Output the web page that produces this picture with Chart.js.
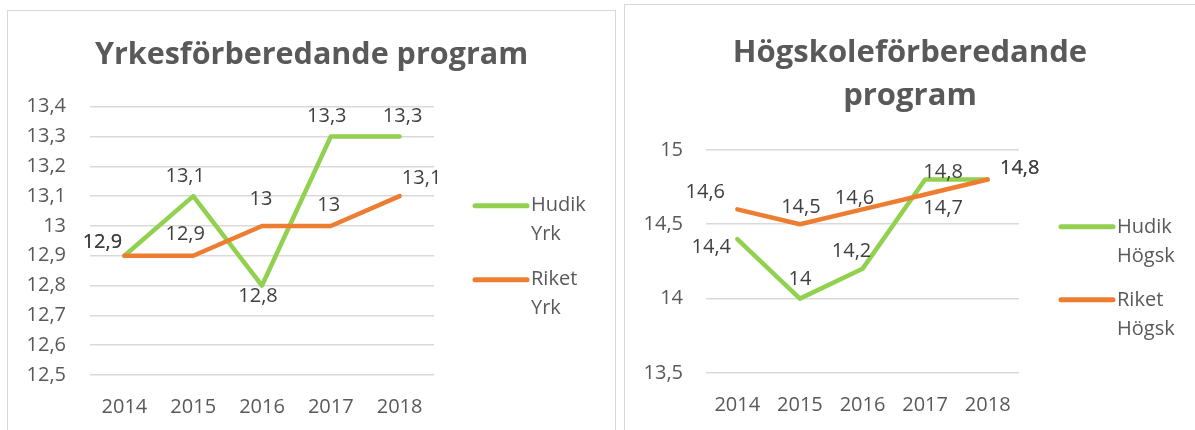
<!DOCTYPE html>
<html>
<head>
<meta charset="utf-8">
<script src="https://cdn.jsdelivr.net/npm/chart.js@4.4.1/dist/chart.umd.min.js"></script>
<style>
    body { margin: 0; background: #fff; width: 1195px; height: 430px; overflow: hidden; position: relative; }
    .box { position: absolute; border: 1px solid #d9d9d9; background: #fff; }
    canvas { position: absolute; left: 0; top: 0; }
</style>
</head>
<body>
<div class="box" style="left:7px;top:10px;width:607px;height:440px"><canvas id="yrkChart" width="607" height="419"></canvas></div>
<div class="box" style="left:624px;top:4px;width:600px;height:440px"><canvas id="hogskChart" width="570" height="425"></canvas></div>
<script>
const years = ['2014', '2015', '2016', '2017', '2018'];

const hudikYrk = [12.9, 13.1, 12.8, 13.3, 13.3];
const riketYrk = [12.9, 12.9, 13.0, 13.0, 13.1];
const yrkTicks = [12.5, 12.6, 12.7, 12.8, 12.9, 13.0, 13.1, 13.2, 13.3, 13.4];

const hudikHogsk = [14.4, 14.0, 14.2, 14.8, 14.8];
const riketHogsk = [14.6, 14.5, 14.6, 14.7, 14.8];
const hogskTicks = [13.5, 14.0, 14.5, 15.0];

const GREEN = '#92D050';
const ORANGE = '#ED7D31';
const GRAY = '#595959';
const FONT = 'Open Sans';

// label offsets (dx, dy) from each point, per dataset
const yrkLabelOffsets = [
    [[-22, -13], [-8, -20], [-4, 11], [-4, -20], [3, -20]],
    [[-22, -13], [-8, -21], [-1, -27], [-2, -21], [22, -18]]
];
const hogskLabelOffsets = [
    [[-26, 8], [0, -19], [-11, -18], [18, -7], [32, -11]],
    [[-32, -17], [1, -17], [-8, -11], [18, 14], [32, -11]]
];

const fmt = v => String(Math.round(v * 10) / 10).replace('.', ',');

const valueLabels = {
    id: 'valueLabels',
    afterDatasetsDraw(chart, args, opts) {
        const ctx = chart.ctx;
        ctx.save();
        ctx.font = `20px "${FONT}"`;
        ctx.fillStyle = '#404040';
        ctx.textAlign = 'center';
        ctx.textBaseline = 'middle';
        chart.data.datasets.forEach((ds, i) => {
            chart.getDatasetMeta(i).data.forEach((pt, j) => {
                const [dx, dy] = opts.offsets[i][j];
                ctx.fillText(fmt(ds.data[j]), pt.x + dx, pt.y + dy);
            });
        });
        ctx.restore();
    }
};

const sideLegend = {
    id: 'sideLegend',
    afterDraw(chart, args, opts) {
        const ctx = chart.ctx;
        const x0 = chart.chartArea.right + opts.dx;
        ctx.save();
        ctx.font = `20px "${FONT}"`;
        ctx.fillStyle = GRAY;
        ctx.textAlign = 'left';
        ctx.textBaseline = 'middle';
        ctx.lineCap = 'round';
        ctx.lineWidth = 5;
        chart.data.datasets.forEach((ds, i) => {
            const y = chart.chartArea.top + opts.dy + i * opts.itemGap;
            ctx.strokeStyle = ds.borderColor;
            ctx.beginPath();
            ctx.moveTo(x0 + 2, y);
            ctx.lineTo(x0 + 54, y);
            ctx.stroke();
            ds.label.split('\n').forEach((line, k) => {
                ctx.fillText(line, x0 + 58, y + k * 29);
            });
        });
        ctx.restore();
    }
};

function makeChart(id, title, series, names, ticks, offsets, geo) {
    new Chart(document.getElementById(id), {
        type: 'line',
        data: {
            labels: years,
            datasets: series.map((data, i) => ({
                label: names[i],
                data: data,
                borderColor: i === 0 ? GREEN : ORANGE,
                borderWidth: 4.5,
                borderCapStyle: 'round',
                borderJoinStyle: 'round',
                pointRadius: 0,
                tension: 0,
                order: i === 0 ? 1 : 0
            }))
        },
        plugins: [valueLabels, sideLegend],
        options: {
            responsive: false,
            animation: false,
            layout: { padding: 0 },
            plugins: {
                legend: { display: false },
                tooltip: { enabled: false },
                title: {
                    display: true,
                    text: title,
                    color: GRAY,
                    font: { family: FONT, size: geo.titleSize, weight: 'bold', lineHeight: 1.4 },
                    padding: { top: geo.titleTop, bottom: geo.titleBottom }
                },
                valueLabels: { offsets: offsets },
                sideLegend: geo.legend
            },
            scales: {
                x: {
                    offset: true,
                    grid: { display: false, drawTicks: false },
                    border: { display: false },
                    ticks: { padding: 20, color: GRAY, font: { family: FONT, size: 20 } },
                    afterFit: s => { s.height = geo.xHeight; }
                },
                y: {
                    min: ticks[0],
                    max: ticks[ticks.length - 1],
                    afterBuildTicks: s => { s.ticks = ticks.map(v => ({ value: v })); },
                    afterFit: s => { s.width = geo.yWidth; },
                    grid: { color: '#d9d9d9', lineWidth: 1.5, drawTicks: false },
                    border: { display: false },
                    ticks: { padding: geo.tickPad, color: GRAY, font: { family: FONT, size: 20 }, callback: v => fmt(v) }
                },
                side: {
                    type: 'linear',
                    position: 'right',
                    grid: { display: false, drawTicks: false },
                    border: { display: false },
                    ticks: { display: false },
                    afterFit: s => { s.width = geo.sideWidth; }
                }
            }
        }
    });
}

makeChart('yrkChart', 'Yrkesförberedande program', [hudikYrk, riketYrk],
    ['Hudik\nYrk', 'Riket\nYrk'], yrkTicks, yrkLabelOffsets,
    { titleSize: 30.5, titleTop: 23, titleBottom: 30, xHeight: 55, yWidth: 82, sideWidth: 181, tickPad: 24,
      legend: { dx: 39, dy: 99, itemGap: 74 } });

makeChart('hogskChart', ['Högskoleförberedande', 'program'], [hudikHogsk, riketHogsk],
    ['Hudik\nHögsk', 'Riket\nHögsk'], hogskTicks, hogskLabelOffsets,
    { titleSize: 31, titleTop: 26, titleBottom: 32, xHeight: 57, yWidth: 81, sideWidth: 176, tickPad: 23,
      legend: { dx: 40, dy: 77, itemGap: 73 } });
</script>
</body>
</html>
